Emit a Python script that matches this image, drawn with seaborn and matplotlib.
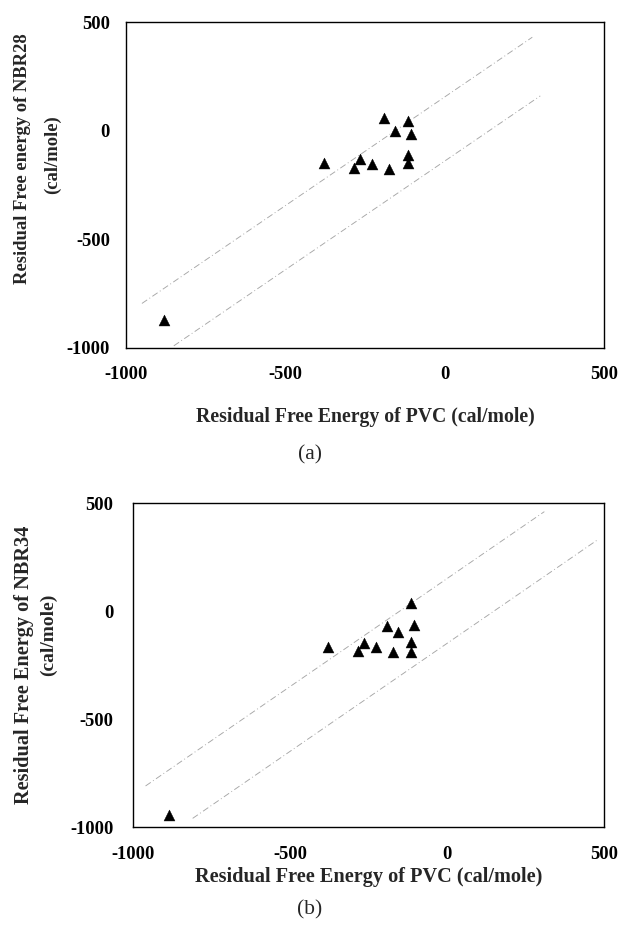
import matplotlib
matplotlib.use("Agg")
import matplotlib.pyplot as plt
import seaborn as sns
import pandas as pd

# ---- data ----
pvc_a = [-880, -380, -285, -266, -227, -190, -174, -157, -115, -107, -115, -115]
nbr28 = [-870, -147, -173, -130, -153, 57, -176, -3, 43, -15, -112, -150]

pvc_b = [-885, -380, -282, -265, -226, -190, -173, -155, -115, -106, -115, -115]
nbr34 = [-944, -168, -184, -150, -168, -69, -191, -99, 36, -66, -142, -188]

band_a_upper_x = [-950, 275]
band_a_upper_y = [-795, 430]
band_a_lower_x = [-850, 300]
band_a_lower_y = [-990, 160]

band_b_upper_x = [-960, 310]
band_b_upper_y = [-810, 460]
band_b_lower_x = [-810, 480]
band_b_lower_y = [-960, 330]

ticks = [-1000, -500, 0, 500]
tick_labels = ["-1000", "-500", "0", "500"]

xlabel = "Residual Free Energy of PVC (cal/mole)"
ylabel_a = ["Residual Free energy of NBR28", "(cal/mole)"]
ylabel_b = ["Residual Free Energy of NBR34", "(cal/mole)"]
captions = ["(a)", "(b)"]

sns.set_style("white")
plt.rcParams["font.family"] = ["Liberation Serif", "DejaVu Serif"]

W, H = 618, 932
fig = plt.figure(figsize=(W / 100, H / 100), dpi=100)

def fx(px):
    return px / W

def fy(py):
    return 1 - py / H

panels = [
    dict(box=(126, 22, 604, 348), x=pvc_a, y=nbr28,
         bands=[(band_a_upper_x, band_a_upper_y), (band_a_lower_x, band_a_lower_y)],
         ylabel=ylabel_a, ylab=[(23, 159, 13.4), (52, 155, 13.4)], xpad=13.0, ypad=11.5,
         xlab_y=417, xlab_size=14.2, cap_y=455, cap=captions[0]),
    dict(box=(133, 503, 604, 827), x=pvc_b, y=nbr34,
         bands=[(band_b_upper_x, band_b_upper_y), (band_b_lower_x, band_b_lower_y)],
         ylabel=ylabel_b, ylab=[(24, 665, 14.6), (48, 635, 14.0)], xpad=13.5, ypad=14,
         xlab_y=877, xlab_size=14.6, cap_y=910, cap=captions[1]),
]

for p in panels:
    l, t, r, b = p["box"]
    ax = fig.add_axes([fx(l), fy(b), fx(r) - fx(l), fy(t) - fy(b)])
    for bx, by in p["bands"]:
        sns.lineplot(x=bx, y=by, ax=ax, color="#a6a6a6", linewidth=0.65,
                     linestyle=(0, (7, 3, 1, 3)), legend=False)
    df = pd.DataFrame({"x": p["x"], "y": p["y"]})
    sns.scatterplot(data=df, x="x", y="y", ax=ax, marker="^", s=62,
                    color="black", edgecolor="black", linewidth=0.3, legend=False, zorder=3)
    ax.set_xlim(-1000, 500)
    ax.set_ylim(-1000, 500)
    ax.set_xticks(ticks)
    ax.set_xticklabels(tick_labels, fontsize=13.3, fontweight="bold")
    ax.set_yticks(ticks)
    ax.set_yticklabels(tick_labels, fontsize=13.3, fontweight="bold")
    ax.tick_params(axis="x", direction="in", length=2, width=0.5, colors="#888888",
                   labelcolor="black", pad=p["xpad"])
    ax.tick_params(axis="y", direction="in", length=2.5, width=0.5, colors="#888888",
                   labelcolor="black", pad=p["ypad"])
    ax.set_xlabel("")
    ax.set_ylabel("")
    for s in ax.spines.values():
        s.set_visible(True)
        s.set_color("black")
        s.set_linewidth(1.0)
    fig.text(fx((l + r) / 2), fy(p["xlab_y"]), xlabel, ha="center", va="center",
             fontsize=p["xlab_size"], fontweight="bold")
    for txt, (tx, ty, ts) in zip(p["ylabel"], p["ylab"]):
        fig.text(fx(tx), fy(ty), txt, ha="center", va="center",
                 rotation=90, fontsize=ts, fontweight="bold")
    fig.text(fx(310), fy(p["cap_y"]), p["cap"], ha="center", va="center", fontsize=15.5)

fig.savefig("out.png", dpi=100)
